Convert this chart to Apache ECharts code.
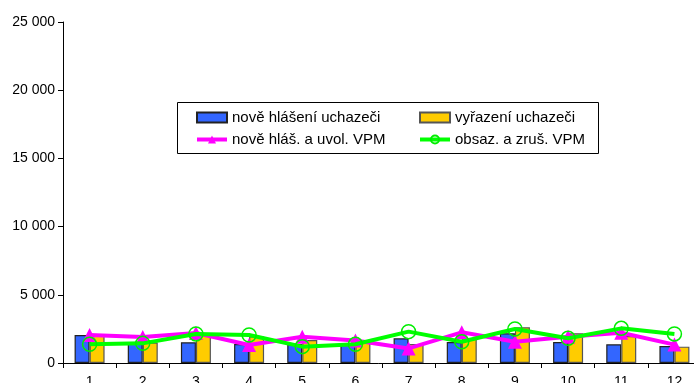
<!DOCTYPE html>
<html><head><meta charset="utf-8">
<script src="https://cdn.jsdelivr.net/npm/echarts@6/dist/echarts.min.js"></script>
<style>html,body{margin:0;padding:0;background:#fff}#c{width:694px;height:383px}</style>
</head><body><div id="c"></div>
<script>
const categories = ['1','2','3','4','5','6','7','8','9','10','11','12'];
const noveHlaseni = [2050,1520,1520,1390,1390,1440,1810,1540,2180,1540,1370,1250];
const vyrazeni = [2000,1500,2100,1950,1690,1690,1390,1810,2620,2180,1980,1200];
const noveVPM = [2050,1900,2200,1320,1930,1650,1070,2250,1560,1930,2220,1350];
const obsazVPM = [1370,1440,2130,2050,1200,1370,2300,1560,2490,1810,2540,2130];
const yTicks = {min:0, max:25000, interval:5000};

const font = 'Liberation Sans, Arial, sans-serif';
const chart = echarts.init(document.getElementById('c'));
const fmt = v => String(v).replace(/\B(?=(\d{3})+(?!\d))/g, ' ');
const legendText = {fontSize:15, lineHeight:15, color:'#000', fontFamily:font};
chart.setOption({
  animation:false,
  textStyle:{fontFamily:font},
  grid:{left:63, top:22, width:638, height:341, containLabel:false, outerBoundsMode:'none'},
  xAxis:{type:'category', data:categories, boundaryGap:true,
    axisLine:{lineStyle:{color:'#000',width:1}},
    axisTick:{show:true, inside:false, length:5, lineStyle:{color:'#000'}},
    axisLabel:{color:'#000', fontSize:14, margin:12, fontFamily:font}},
  yAxis:{type:'value', min:yTicks.min, max:yTicks.max, interval:yTicks.interval,
    axisLine:{show:true, lineStyle:{color:'#000',width:1}},
    axisTick:{show:true, length:5, lineStyle:{color:'#000'}},
    splitLine:{show:false},
    axisLabel:{color:'#000', fontSize:14, margin:8, fontFamily:font, formatter:fmt}},
  graphic:[{type:'rect', shape:{x:177.5,y:102.5,width:421,height:51}, style:{fill:'#fff',stroke:'#000',lineWidth:1}, z:0}],
  legend:[
    {left:195, top:110, orient:'vertical', itemGap:7, itemWidth:30, itemHeight:10, padding:0,
     textStyle:legendText, z:5,
     data:[{name:'nově hlášení uchazeči', icon:'rect'},
           {name:'nově hláš. a uvol. VPM', lineStyle:{width:4}}]},
    {left:418, top:110, orient:'vertical', itemGap:7, itemWidth:30, itemHeight:10, padding:0,
     textStyle:legendText, z:5,
     data:[{name:'vyřazení uchazeči', icon:'rect'},
           {name:'obsaz. a zruš. VPM', lineStyle:{width:4}}]}
  ],
  series:[
    {name:'nově hlášení uchazeči', type:'bar', data:noveHlaseni, barWidth:15, barGap:'0%',
     itemStyle:{color:'#3366FF', borderColor:'#222', borderWidth:1.2}},
    {name:'vyřazení uchazeči', type:'bar', data:vyrazeni, barWidth:15, barGap:'0%',
     itemStyle:{color:'#FFCC00', borderColor:'#555', borderWidth:1.2}},
    {name:'nově hláš. a uvol. VPM', type:'line', data:noveVPM, symbol:'triangle', symbolSize:14,
     lineStyle:{color:'#FF00FF', width:4}, itemStyle:{color:'#FF00FF'}, z:4},
    {name:'obsaz. a zruš. VPM', type:'line', data:obsazVPM, symbol:'circle', symbolSize:14,
     lineStyle:{color:'#00FF00', width:4}, itemStyle:{color:'rgba(0,0,0,0)', borderColor:'#00EE00', borderWidth:1.5}, z:5}
  ]
});
</script></body></html>
